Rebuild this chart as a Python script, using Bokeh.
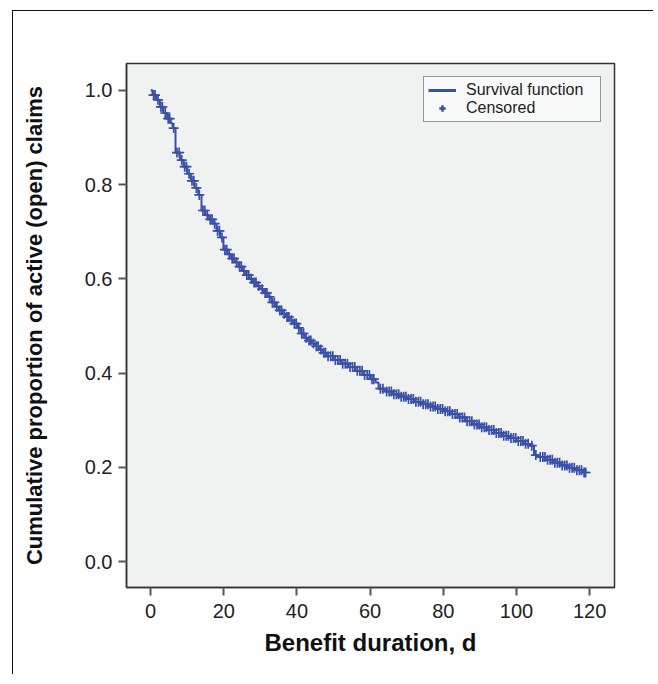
from bokeh.plotting import figure
from bokeh.models import Range1d, Legend, LegendItem, FixedTicker, PrintfTickFormatter
from bokeh.embed import file_html
from bokeh.resources import INLINE
import numpy as np

# Kaplan-Meier style survival curve
event_times = [0, 0.5, 1.5, 2.5, 3.5, 4.5, 5.5, 6.0, 6.8, 8, 9, 10, 11, 12, 13, 13.9,
               15, 16, 17, 18, 19, 19.9, 21, 22, 23, 24, 25, 26, 27, 28, 29, 30, 31, 32,
               33, 34, 35, 36, 37, 38, 39, 40, 41, 42, 43, 44, 45, 46, 47, 48, 50, 52,
               54, 56, 58, 60, 61.5, 62.3, 64, 66, 68, 70, 72, 74, 76, 78, 80, 82, 84,
               86, 88, 90, 92, 94, 96, 98, 100, 102, 103.5, 104.8, 106, 108, 110, 112,
               114, 116, 118, 119]
survival = [1.000, 0.990, 0.980, 0.965, 0.952, 0.940, 0.930, 0.920, 0.868, 0.852, 0.838,
            0.823, 0.808, 0.793, 0.778, 0.745, 0.735, 0.726, 0.717, 0.702, 0.688, 0.662,
            0.652, 0.643, 0.635, 0.626, 0.617, 0.608, 0.600, 0.592, 0.585, 0.578, 0.570,
            0.562, 0.550, 0.541, 0.533, 0.526, 0.519, 0.512, 0.505, 0.496, 0.484, 0.475,
            0.469, 0.463, 0.457, 0.450, 0.443, 0.436, 0.428, 0.420, 0.413, 0.405, 0.396,
            0.387, 0.380, 0.367, 0.361, 0.355, 0.350, 0.345, 0.339, 0.334, 0.329, 0.324,
            0.319, 0.313, 0.306, 0.298, 0.291, 0.285, 0.279, 0.273, 0.267, 0.262, 0.256,
            0.250, 0.246, 0.226, 0.222, 0.216, 0.210, 0.204, 0.199, 0.194, 0.189, 0.189]

censor_times = [0.8, 1.2, 2.0, 2.8, 3.2, 4.0, 4.8, 5.2, 6.3, 7.2, 7.8, 8.5, 9.3, 9.8, 10.5,
                11.3, 11.8, 12.5, 13.3, 14.3, 14.8, 15.5, 16.3, 16.8, 17.5, 18.3, 18.8,
                19.5, 20.3, 20.8, 21.5, 22.3, 22.8, 23.5, 24.3, 24.8, 25.5, 26.3, 26.8,
                27.5, 28.3, 28.8, 29.5, 30.5, 31.3, 31.8, 32.5, 33.3, 33.8, 34.5, 35.3,
                35.8, 36.5, 37.3, 37.8, 38.5, 39.3, 39.8, 40.5, 41.3, 41.8, 42.5, 43.3,
                43.8, 44.5, 45.3, 45.8, 46.5, 47.3, 47.8, 48.5, 49.2, 49.8, 50.5, 51.2,
                51.8, 52.5, 53.2, 53.8, 54.5, 55.2, 55.8, 56.5, 57.2, 57.8, 58.5, 59.2,
                59.8, 60.5, 61.0, 62.8, 63.5, 64.5, 65.2, 65.8, 66.5, 67.2, 67.8, 68.5,
                69.2, 69.8, 70.5, 71.2, 71.8, 72.5, 73.2, 73.8, 74.5, 75.2, 75.8, 76.5,
                77.2, 77.8, 78.5, 79.2, 79.8, 80.5, 81.2, 81.8, 82.5, 83.2, 83.8, 84.5,
                85.2, 85.8, 86.5, 87.2, 87.8, 88.5, 89.2, 89.8, 90.5, 91.2, 91.8, 92.5,
                93.2, 93.8, 94.5, 95.2, 95.8, 96.5, 97.2, 97.8, 98.5, 99.2, 99.8, 100.5,
                101.2, 101.8, 102.5, 103.2, 104.2, 105.3, 106.5, 107.2, 107.8, 108.5,
                109.2, 109.8, 110.5, 111.2, 111.8, 112.5, 113.2, 113.8, 114.5, 115.2,
                115.8, 116.5, 117.2, 117.8, 118.5, 118.9]

x_ticks = [0, 20, 40, 60, 80, 100, 120]
y_ticks = [0.0, 0.2, 0.4, 0.6, 0.8, 1.0]

x_label = "Benefit duration, d"
y_label = "Cumulative proportion of active (open) claims"
legend_labels = ["Survival function", "Censored"]

# survival value at each censoring time (step function lookup)
idx = np.searchsorted(np.array(event_times), np.array(censor_times), side="right") - 1
censor_surv = [survival[i] for i in idx]

BLUE = "#3a50a6"
FONT = "Liberation Sans"

p = figure(frame_width=488, frame_height=524,
           x_range=Range1d(-6.6, 126.8), y_range=Range1d(-0.055, 1.057),
           output_backend="svg", toolbar_location=None,
           min_border_left=113, min_border_right=40, min_border_top=52, min_border_bottom=88)
# thin frame of the whole figure (top and left edges), drawn as a shadow so layout is unchanged
p.styles = {"margin-left": "13px", "margin-top": "11px", "vertical-align": "top",
            "box-shadow": "-1px -1px 0px 0px #111111"}

p.background_fill_color = "#f0f2f2"
p.border_fill_color = "white"
p.border_fill_alpha = 0.0
p.outline_line_color = "#333333"
p.outline_line_width = 1.5
p.xgrid.visible = False
p.ygrid.visible = False

for ax in (p.xaxis[0], p.yaxis[0]):
    ax.axis_line_color = "#333333"
    ax.axis_line_width = 1.5
    ax.major_tick_line_color = "#555555"
    ax.major_tick_line_width = 2
    ax.major_tick_out = 8
    ax.major_tick_in = 0
    ax.minor_tick_line_color = None
    ax.major_label_text_font = FONT
    ax.major_label_text_font_size = "20px"
    ax.major_label_text_color = "#222222"
    ax.axis_label_text_font = FONT
    ax.axis_label_text_font_style = "bold"
    ax.axis_label_text_color = "#111111"

p.xaxis[0].major_label_standoff = 8
p.yaxis[0].major_label_standoff = 6
p.xaxis[0].ticker = FixedTicker(ticks=x_ticks)
p.yaxis[0].ticker = FixedTicker(ticks=y_ticks)
p.yaxis[0].formatter = PrintfTickFormatter(format="%.1f")
p.xaxis[0].axis_label = x_label
p.yaxis[0].axis_label = y_label
p.xaxis[0].axis_label_text_font_size = "24px"
p.yaxis[0].axis_label_text_font_size = "22px"
p.xaxis[0].axis_label_standoff = 8
p.yaxis[0].axis_label_standoff = 35

r_step = p.step(event_times, survival, mode="after", line_color=BLUE, line_width=2)
r_cens = p.scatter(censor_times, censor_surv, marker="cross", size=10,
                   line_color=BLUE, line_width=1.7)
# hidden copies of the same data, used only for bolder legend swatches
r_step_leg = p.line(event_times, survival, line_color=BLUE, line_width=3, visible=False)
r_cens_leg = p.scatter(censor_times, censor_surv, marker="cross", size=22,
                       line_color=BLUE, line_width=2.5, visible=False)

legend = Legend(items=[LegendItem(label=legend_labels[0], renderers=[r_step_leg]),
                       LegendItem(label=legend_labels[1], renderers=[r_cens_leg])],
                location="top_right")
legend.margin = 13
legend.padding = 4
legend.spacing = 0
legend.label_height = 16
legend.glyph_height = 16
legend.glyph_width = 28
legend.label_width = 130
legend.label_standoff = 10
legend.label_text_font = FONT
legend.label_text_font_size = "16px"
legend.label_text_color = "#222222"
legend.border_line_color = "#333333"
legend.border_line_width = 1.5
legend.background_fill_color = "#f8f9f9"
legend.background_fill_alpha = 1.0
legend.inactive_fill_alpha = 0.0
p.add_layout(legend)

open("out.html", "w").write(file_html(p, INLINE))
